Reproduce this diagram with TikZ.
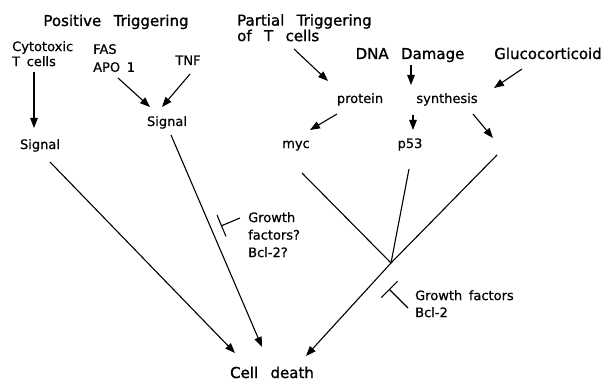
\documentclass[tikz,border=0pt]{standalone}
\usepackage{fontspec}
\setmainfont[WordSpace=1.6,FakeBold=0.6]{DejaVu Sans}
\newfontfamily\headfont[WordSpace=2.6,FakeBold=1.2]{DejaVu Sans}
\usetikzlibrary{arrows.meta}

\tikzset{
  txt/.style={inner sep=0pt, font=\fontsize{13}{16}\selectfont},
  head/.style={inner sep=0pt, font=\headfont\fontsize{15}{14}\selectfont},
  arr/.style={line width=1.1pt, -{Triangle[length=10pt,width=7.5pt]}},
  ln/.style={line width=1.1pt},
  blk/.style={line width=1.1pt, -{Bar[width=23pt,line width=1.1pt]}}
}

\begin{document}
\begin{tikzpicture}[x=1pt,y=1pt]
  \useasboundingbox (0,0) rectangle (605,381);

  % Headings
  \node[head, anchor=base] (postrig) at (116,355) {Positive Triggering};
  \node[head, anchor=north west, align=left] (partrig) at (237,367) {Partial Triggering\\of T cells};
  \node[head, anchor=base] (dna) at (410,322) {DNA Damage};
  \node[head, anchor=base] (gluco) at (548,322) {Glucocorticoid};
  \node[head, anchor=base] (death) at (272,3) {Cell death};

  % Left part
  \node[txt, anchor=north west, align=left, font=\fontsize{13}{15}\selectfont] (cyto) at (12,340) {Cytotoxic\\T cells};
  \node[txt, anchor=north west, align=left, font=\fontsize{13}{18}\selectfont] (fas) at (93,337) {FAS\\APO 1};
  \node[txt, anchor=base] (tnf) at (188,316) {TNF};
  \node[txt, anchor=base] (sigL) at (40,232) {Signal};
  \node[txt, anchor=base] (sigM) at (167,255) {Signal};
  \node[txt, anchor=north west, align=left, font=\fontsize{13}{17.5}\selectfont] (gfA) at (248,169) {Growth\\factors?\\Bcl-2?};

  % Right part
  \node[txt, anchor=base] (protein) at (360,278) {protein};
  \node[txt, anchor=base] (synth) at (447,278) {synthesis};
  \node[txt, anchor=base] (myc) at (296,233) {myc};
  \node[txt, anchor=base] (p53) at (410,233) {p53};
  \node[txt, anchor=north west, align=left, font=\fontsize{13}{17}\selectfont] (gfB) at (415,91) {Growth factors\\Bcl-2};
  \coordinate (blank) at (495,235);
  \coordinate (join) at (391,118);
  \coordinate (barA) at (221,155);
  \coordinate (barB) at (389,92);

  % Arrows
  \draw[arr] ([shift={(22,-31)}]cyto.north west) -- ([shift={(-6,21)}]sigL.base);
  \draw[arr] ([shift={(25,-34)}]fas.north west) -- ([shift={(-17,19)}]sigM.base);
  \draw[arr] ([shift={(2,-9)}]tnf.base) -- ([shift={(-5,19)}]sigM.base);
  \draw[arr] ([shift={(10,-13)}]sigL.base) -- ([shift={(-37,25)}]death.base);
  \draw[arr] ([shift={(4,-9)}]sigM.base) -- ([shift={(-10,31)}]death.base);
  \draw[arr] ([shift={(57,-35)}]partrig.north west) -- ([shift={(-32,22)}]protein.base);
  \draw[arr] ([shift={(1,-6)}]dna.base) -- ([shift={(-36,18)}]synth.base);
  \draw[arr] ([shift={(-26,-10)}]gluco.base) -- ([shift={(47,15)}]synth.base);
  \draw[arr] ([shift={(-23,-11)}]protein.base) -- ([shift={(14,18)}]myc.base);
  \draw[arr] ([shift={(-34,-12)}]synth.base) -- ([shift={(3,18)}]p53.base);
  \draw[arr] ([shift={(26,-11)}]synth.base) -- ([shift={(-2,8)}]blank);

  % Converging lines
  \draw[ln] ([shift={(6,-25)}]myc.base) -- (join);
  \draw[ln] ([shift={(-1,-21)}]p53.base) -- (join);
  \draw[ln] ([shift={(2,-9)}]blank) -- (join);
  \draw[arr] (join) -- ([shift={(34,22)}]death.base);

  % Inhibitors
  \draw[blk] ([shift={(-8,-6)}]gfA.north west) -- (barA);
  \draw[blk] ([shift={(-7,-18)}]gfB.north west) -- (barB);
\end{tikzpicture}
\end{document}
